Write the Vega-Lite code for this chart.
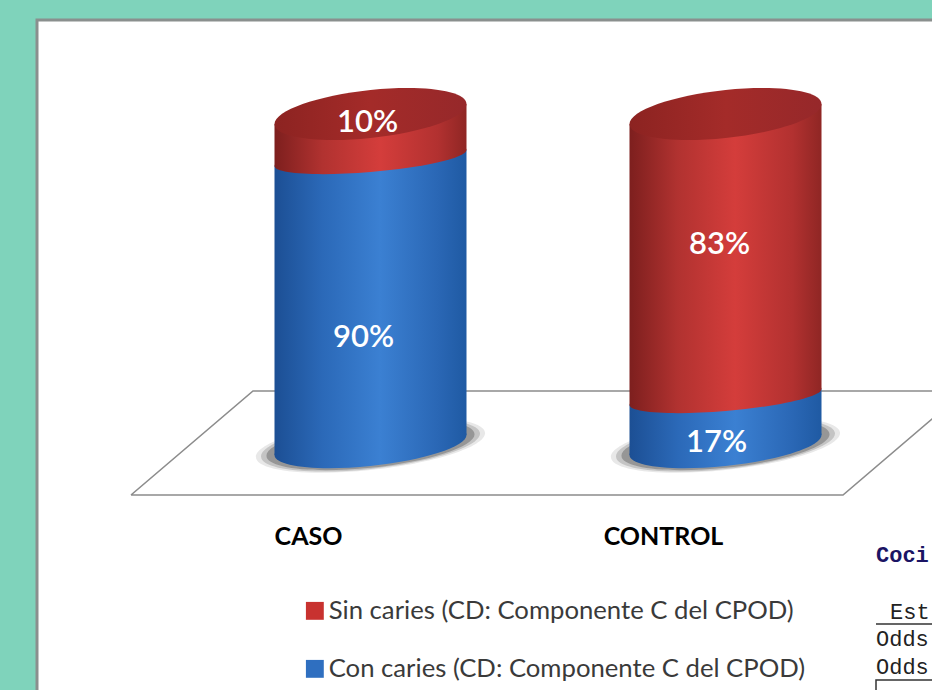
{
"$schema":"https://vega.github.io/schema/vega-lite/v6.json",
"width":900,"height":680,
"autosize":{"type":"none"},
"padding":{"left":37,"top":20,"right":0,"bottom":0},
"background":"#7FD3BB",
"view":{"fill":"#ffffff","stroke":"#8a8f8e","strokeWidth":3},
"config":{"axisY":{"disable":true},"font":"Lato"},
"datasets":{
"barras":[
{"categoria":"CASO","serie":"Con caries (CD: Componente C del CPOD)","grupo":"Con","valor":90,"etiqueta":"90%"},
{"categoria":"CASO","serie":"Sin caries (CD: Componente C del CPOD)","grupo":"Sin","valor":10,"etiqueta":"10%"},
{"categoria":"CONTROL","serie":"Con caries (CD: Componente C del CPOD)","grupo":"Con","valor":17,"etiqueta":"17%"},
{"categoria":"CONTROL","serie":"Sin caries (CD: Componente C del CPOD)","grupo":"Sin","valor":83,"etiqueta":"83%"}
],
"notas":[{"categoria":"CONTROL","texto":"Coci"},{"categoria":"CONTROL","texto":"Est"},{"categoria":"CONTROL","texto":"Odds"},{"categoria":"CONTROL","texto":"Odds "}],
"base":[{"categoria":"CASO"}]
},
"data":{"name":"barras"},
"transform":[{"stack":"valor","groupby":["categoria"],"sort":[{"field":"grupo","order":"ascending"}],"as":["v0","v1"]}],
"encoding":{"x":{"field":"categoria","type":"nominal","title":null,"sort":["CASO","CONTROL"],
"scale":{"type":"band","domain":["CASO","CONTROL"],"range":[156,866],"padding":0},
"axis":{"domain":false,"ticks":false,"grid":false,"labelAngle":0,"labelOffset":-62,"labelFontSize":25,"labelFontWeight":"bold","labelColor":"#000000","labelFont":"Lato","labelPadding":0,"offset":-176,"labelBaseline":"top"}}},
"layer":[
{"data":{"name":"base"},"mark":{"type":"point","filled":false,"opacity":1,"size":4,"stroke":"#8c8c8c","strokeWidth":1.6,"shape":"M-239.5 50L-117.5 -54L600 -54M-239.5 50L472.5 50L572 -35"},
"encoding":{"y":{"datum":0,"type":"quantitative","scale":{"type":"linear","domain":[0,17,90,100],"range":[425,377,138,94],"zero":false,"nice":false}}}},
{"transform":[{"filter":"datum.grupo=='Con'"}],"mark":{"type":"point","filled":true,"opacity":0.1,"size":5.7,"fill":"#222222","stroke":null,"shape":"M96 -10C96 1.6 53 15.48 0 21C-53 26.52 -96 21.6 -96 10C-96 -1.6 -53 -15.48 0 -21C53 -26.52 96 -21.6 96 -10Z"},"encoding":{"y":{"datum":0,"type":"quantitative"}}},
{"transform":[{"filter":"datum.grupo=='Con'"}],"mark":{"type":"point","filled":true,"opacity":0.18,"size":5.2,"fill":"#222222","stroke":null,"shape":"M96 -10C96 1.6 53 15.48 0 21C-53 26.52 -96 21.6 -96 10C-96 -1.6 -53 -15.48 0 -21C53 -26.52 96 -21.6 96 -10Z"},"encoding":{"y":{"datum":0,"type":"quantitative"}}},
{"transform":[{"filter":"datum.grupo=='Con'"}],"mark":{"type":"point","filled":true,"opacity":0.28,"size":4.7,"fill":"#222222","stroke":null,"shape":"M96 -10C96 1.6 53 15.48 0 21C-53 26.52 -96 21.6 -96 10C-96 -1.6 -53 -15.48 0 -21C53 -26.52 96 -21.6 96 -10Z"},"encoding":{"y":{"datum":0,"type":"quantitative"}}},
{"mark":{"type":"bar","width":188,"yOffset":10,"y2Offset":-10},
"encoding":{"y":{"field":"v1","type":"quantitative"},"y2":{"field":"v0"},
"color":{"field":"serie","type":"nominal","sort":null,"scale":{"domain":["Sin caries (CD: Componente C del CPOD)","Con caries (CD: Componente C del CPOD)"],"range":["#c8322f","#2f6fc0"]},
"legend":{"orient":"none","legendX":265,"legendY":578,"title":null,"symbolType":"square","symbolSize":320,"symbolStrokeWidth":0,"labelFontSize":25.7,"labelFont":"Lato","labelColor":"#3a3a3a","labelLimit":600,"rowPadding":31,"labelOffset":1,"padding":0}}}},
{"transform":[{"filter":"datum.grupo=='Con'"}],"mark":{"type":"bar","width":192,"yOffset":8,"y2Offset":-10,"fill":{"gradient":"linear","x1":0,"y1":0,"x2":1,"y2":0,"stops":[{"offset":0,"color":"#1c4f94"},{"offset":0.25,"color":"#2b69b8"},{"offset":0.55,"color":"#3b80d2"},{"offset":0.85,"color":"#2a67b5"},{"offset":1,"color":"#1f5aa3"}]}},
"encoding":{"y":{"field":"v1","type":"quantitative"},"y2":{"field":"v0"}}},
{"transform":[{"filter":"datum.grupo=='Con'"}],"mark":{"type":"point","filled":true,"opacity":1,"size":4,"stroke":null,"shape":"M-96 8L96 -8L96 8Z","fill":{"gradient":"linear","x1":0,"y1":0,"x2":1,"y2":0,"stops":[{"offset":0,"color":"#1c4f94"},{"offset":0.25,"color":"#2b69b8"},{"offset":0.55,"color":"#3b80d2"},{"offset":0.85,"color":"#2a67b5"},{"offset":1,"color":"#1f5aa3"}]}},
"encoding":{"y":{"field":"v1","type":"quantitative"}}},
{"transform":[{"filter":"datum.grupo=='Con'"}],"mark":{"type":"point","filled":true,"opacity":1,"size":4,"stroke":null,"shape":"M-96 -10L96 -10L-96 10Z","fill":{"gradient":"linear","x1":0,"y1":0,"x2":1,"y2":0,"stops":[{"offset":0,"color":"#1c4f94"},{"offset":0.25,"color":"#2b69b8"},{"offset":0.55,"color":"#3b80d2"},{"offset":0.85,"color":"#2a67b5"},{"offset":1,"color":"#1f5aa3"}]}},
"encoding":{"y":{"field":"v0","type":"quantitative"}}},
{"transform":[{"filter":"datum.grupo=='Con'"}],"mark":{"type":"point","filled":true,"opacity":1,"size":4,"stroke":null,"shape":"M96 -10C96 1.6 53 15.48 0 21C-53 26.52 -96 21.6 -96 10C-96 -1.6 -53 -15.48 0 -21C53 -26.52 96 -21.6 96 -10Z","fill":{"gradient":"linear","x1":0,"y1":0,"x2":1,"y2":0,"stops":[{"offset":0,"color":"#1c4f94"},{"offset":0.25,"color":"#2b69b8"},{"offset":0.55,"color":"#3b80d2"},{"offset":0.85,"color":"#2a67b5"},{"offset":1,"color":"#1f5aa3"}]}},
"encoding":{"y":{"field":"v0","type":"quantitative"}}},
{"transform":[{"filter":"datum.grupo=='Sin'"}],"mark":{"type":"bar","width":192,"yOffset":10,"y2Offset":-8,"fill":{"gradient":"linear","x1":0,"y1":0,"x2":1,"y2":0,"stops":[{"offset":0,"color":"#7d1f1e"},{"offset":0.25,"color":"#b13230"},{"offset":0.55,"color":"#d43d3b"},{"offset":0.85,"color":"#b23130"},{"offset":1,"color":"#8f2624"}]}},
"encoding":{"y":{"field":"v1","type":"quantitative"},"y2":{"field":"v0"}}},
{"transform":[{"filter":"datum.grupo=='Sin'"}],"mark":{"type":"point","filled":true,"opacity":1,"size":4,"stroke":null,"shape":"M-96 10L96 -10L96 10Z","fill":{"gradient":"linear","x1":0,"y1":0,"x2":1,"y2":0,"stops":[{"offset":0,"color":"#7d1f1e"},{"offset":0.25,"color":"#b13230"},{"offset":0.55,"color":"#d43d3b"},{"offset":0.85,"color":"#b23130"},{"offset":1,"color":"#8f2624"}]}},
"encoding":{"y":{"field":"v1","type":"quantitative"}}},
{"transform":[{"filter":"datum.grupo=='Sin'"}],"mark":{"type":"point","filled":true,"opacity":1,"size":4,"stroke":null,"shape":"M-96 -8L96 -8L-96 8Z","fill":{"gradient":"linear","x1":0,"y1":0,"x2":1,"y2":0,"stops":[{"offset":0,"color":"#7d1f1e"},{"offset":0.25,"color":"#b13230"},{"offset":0.55,"color":"#d43d3b"},{"offset":0.85,"color":"#b23130"},{"offset":1,"color":"#8f2624"}]}},
"encoding":{"y":{"field":"v0","type":"quantitative"}}},
{"transform":[{"filter":"datum.grupo=='Sin'"}],"mark":{"type":"point","filled":true,"opacity":1,"size":4,"stroke":null,"shape":"M96 -8C96 -.27 53 9.58 0 14C-53 18.42 -96 15.73 -96 8C-96 .27 -53 -9.58 0 -14C53 -18.42 96 -15.73 96 -8Z","fill":{"gradient":"linear","x1":0,"y1":0,"x2":1,"y2":0,"stops":[{"offset":0,"color":"#7d1f1e"},{"offset":0.25,"color":"#b13230"},{"offset":0.55,"color":"#d43d3b"},{"offset":0.85,"color":"#b23130"},{"offset":1,"color":"#8f2624"}]}},
"encoding":{"y":{"field":"v0","type":"quantitative"}}},
{"transform":[{"filter":"datum.grupo=='Sin'"}],"mark":{"type":"point","filled":true,"opacity":1,"size":4,"stroke":null,"shape":"M96 -10C96 3.26 53 18.48 0 24C-53 29.52 -96 23.26 -96 10C-96 -3.26 -53 -18.48 0 -24C53 -29.52 96 -23.26 96 -10Z","fill":{"gradient":"linear","x1":0,"y1":0,"x2":1,"y2":0,"stops":[{"offset":0,"color":"#8c2321"},{"offset":0.5,"color":"#a42b29"},{"offset":1,"color":"#96282a"}]}},
"encoding":{"y":{"field":"v1","type":"quantitative"}}},
{"transform":[{"filter":"datum.etiqueta=='90%'"}],"mark":{"type":"text","color":"#ffffff","font":"Lato","fontSize":31,"fontWeight":600,"baseline":"middle","dx":-7,"dy":180},"encoding":{"y":{"field":"v1","type":"quantitative"},"text":{"field":"etiqueta"}}},
{"transform":[{"filter":"datum.etiqueta=='10%'"}],"mark":{"type":"text","color":"#ffffff","font":"Lato","fontSize":31,"fontWeight":600,"baseline":"middle","dx":-3,"dy":9},"encoding":{"y":{"field":"v1","type":"quantitative"},"text":{"field":"etiqueta"}}},
{"transform":[{"filter":"datum.etiqueta=='83%'"}],"mark":{"type":"text","color":"#ffffff","font":"Lato","fontSize":31,"fontWeight":600,"baseline":"middle","dx":-6,"dy":131},"encoding":{"y":{"field":"v1","type":"quantitative"},"text":{"field":"etiqueta"}}},
{"transform":[{"filter":"datum.etiqueta=='17%'"}],"mark":{"type":"text","color":"#ffffff","font":"Lato","fontSize":31,"fontWeight":600,"baseline":"middle","dx":-9,"dy":46},"encoding":{"y":{"field":"v1","type":"quantitative"},"text":{"field":"etiqueta"}}},
{"data":{"name":"notas"},"transform":[{"filter":"datum.texto=='Coci'"}],"mark":{"type":"text","font":"Liberation Mono","fontSize":22,"fontWeight":"bold","color":"#1b1464","align":"left","baseline":"middle","dx":150.5,"dy":110},"encoding":{"y":{"datum":0,"type":"quantitative"},"text":{"field":"texto"}}},
{"data":{"name":"notas"},"transform":[{"filter":"datum.texto=='Est'"}],"mark":{"type":"text","font":"Liberation Mono","fontSize":22,"color":"#222222","align":"left","baseline":"middle","dx":164.5,"dy":167},"encoding":{"y":{"datum":0,"type":"quantitative"},"text":{"field":"texto"}}},
{"data":{"name":"notas"},"transform":[{"filter":"datum.texto=='Odds'"}],"mark":{"type":"text","font":"Liberation Mono","fontSize":22,"color":"#222222","align":"left","baseline":"middle","dx":150.5,"dy":194},"encoding":{"y":{"datum":0,"type":"quantitative"},"text":{"field":"texto"}}},
{"data":{"name":"notas"},"transform":[{"filter":"datum.texto=='Odds '"}],"mark":{"type":"text","font":"Liberation Mono","fontSize":22,"color":"#222222","align":"left","baseline":"middle","dx":150.5,"dy":222},"encoding":{"y":{"datum":0,"type":"quantitative"},"text":{"field":"texto"}}},
{"data":{"name":"notas"},"transform":[{"filter":"datum.texto=='Est'"}],"mark":{"type":"point","filled":false,"opacity":1,"size":4,"stroke":"#333333","strokeWidth":1.5,"shape":"M150.5 179L215 179M150.5 250L150.5 235L215 235"},"encoding":{"y":{"datum":0,"type":"quantitative"}}}
]
}
